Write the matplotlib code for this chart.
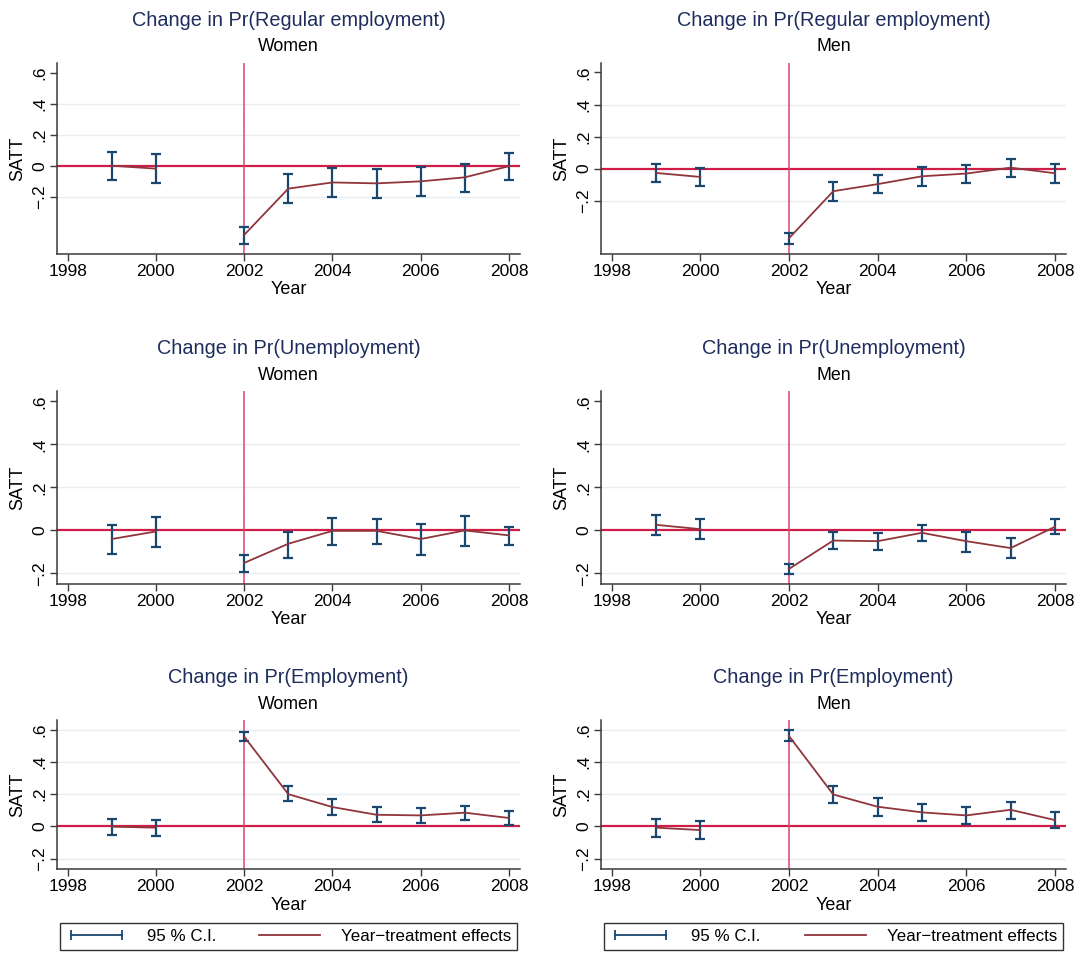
import numpy as np
import matplotlib
matplotlib.use("Agg")
import matplotlib.pyplot as plt
from matplotlib.lines import Line2D
from matplotlib.legend_handler import HandlerLine2D

plt.rcParams['font.family'] = ['Liberation Sans', 'DejaVu Sans']

# ---------------- data ----------------
years = [1999, 2000, 2001, 2002, 2003, 2004, 2005, 2006, 2007, 2008]
nan = np.nan

reg_w_est = [0.000, -0.019, nan, -0.447, -0.148, -0.108, -0.114, -0.101, -0.075, -0.003]
reg_w_lo  = [-0.095, -0.114, nan, -0.508, -0.241, -0.200, -0.206, -0.194, -0.168, -0.090]
reg_w_hi  = [0.086, 0.073, nan, -0.396, -0.056, -0.015, -0.022, -0.009, 0.011, 0.080]

reg_m_est = [-0.027, -0.052, nan, -0.435, -0.141, -0.097, -0.048, -0.031, 0.006, -0.029]
reg_m_lo  = [-0.081, -0.106, nan, -0.473, -0.201, -0.155, -0.106, -0.091, -0.050, -0.087]
reg_m_hi  = [0.029, 0.004, nan, -0.400, -0.085, -0.037, 0.010, 0.025, 0.060, 0.027]

une_w_est = [-0.040, -0.005, nan, -0.151, -0.062, -0.002, -0.002, -0.040, 0.000, -0.023]
une_w_lo  = [-0.109, -0.075, nan, -0.193, -0.127, -0.067, -0.062, -0.113, -0.073, -0.067]
une_w_hi  = [0.025, 0.061, nan, -0.113, -0.006, 0.057, 0.054, 0.030, 0.068, 0.016]

une_m_est = [0.026, 0.006, nan, -0.179, -0.047, -0.050, -0.011, -0.050, -0.082, 0.017]
une_m_lo  = [-0.020, -0.042, nan, -0.204, -0.087, -0.090, -0.048, -0.098, -0.128, -0.017]
une_m_hi  = [0.072, 0.054, nan, -0.157, -0.006, -0.011, 0.026, -0.005, -0.036, 0.054]

emp_w_est = [-0.002, -0.008, nan, 0.558, 0.200, 0.120, 0.072, 0.068, 0.085, 0.052]
emp_w_lo  = [-0.052, -0.058, nan, 0.531, 0.155, 0.072, 0.025, 0.023, 0.041, 0.006]
emp_w_hi  = [0.043, 0.041, nan, 0.589, 0.248, 0.169, 0.118, 0.112, 0.128, 0.095]

emp_m_est = [-0.008, -0.023, nan, 0.562, 0.198, 0.122, 0.087, 0.068, 0.103, 0.039]
emp_m_lo  = [-0.064, -0.079, nan, 0.531, 0.143, 0.066, 0.031, 0.014, 0.045, -0.012]
emp_m_hi  = [0.043, 0.033, nan, 0.597, 0.252, 0.178, 0.141, 0.120, 0.153, 0.091]

titles = ["Change in Pr(Regular employment)", "Change in Pr(Unemployment)", "Change in Pr(Employment)"]
subtitles = ["Women", "Men"]
ytick_vals = [-0.2, 0, 0.2, 0.4, 0.6]
ytick_labels = ["\u2212.2", "0", ".2", ".4", ".6"]
xtick_vals = [1998, 2000, 2002, 2004, 2006, 2008]
treat_year = 2002
legend_labels = ["95 % C.I.", "Year\u2212treatment effects"]

series = [
    [(reg_w_est, reg_w_lo, reg_w_hi), (reg_m_est, reg_m_lo, reg_m_hi)],
    [(une_w_est, une_w_lo, une_w_hi), (une_m_est, une_m_lo, une_m_hi)],
    [(emp_w_est, emp_w_lo, emp_w_hi), (emp_m_est, emp_m_lo, emp_m_hi)],
]

# ---------------- layout / style ----------------
W, H = 1078, 956
fig = plt.figure(figsize=(W / 100, H / 100), dpi=100)

col_x = [(57, 520), (601, 1066)]
row_y = [(62.7, 254), (391, 584), (720, 869)]
ylims = [[(-0.57, 0.665), (-0.533, 0.661)],
         [(-0.249, 0.648), (-0.249, 0.648)],
         [(-0.265, 0.661), (-0.265, 0.661)]]
grid_rows = [[-0.2, 0.2, 0.4], [-0.2, 0.2, 0.4], [-0.2, 0.2, 0.4, 0.6]]

navy = "#1a476f"
maroon = "#90353b"
refred = "#cf1d48"
vred = "#dc4570"
title_col = "#1e2d5c"
gridc = "#e6eef1"
axc = "#3a3a3a"
fs_tick = 12.5
fs_lab = 13

for r in range(3):
    for c in range(2):
        x0, x1 = col_x[c]
        yt, yb = row_y[r]
        ax = fig.add_axes([x0 / W, 1 - yb / H, (x1 - x0) / W, (yb - yt) / H])
        est, lo, hi = [np.array(a, dtype=float) for a in series[r][c]]
        yrs = np.array(years, dtype=float)

        for g in grid_rows[r]:
            ax.axhline(g, color=gridc, lw=1.0, zorder=0.5)
        ax.axhline(0, color=refred, lw=1.6, zorder=1.2)
        ax.axvline(treat_year, color=vred, lw=1.1, zorder=1.2)

        ok = ~np.isnan(est)
        ax.errorbar(yrs[ok], (lo[ok] + hi[ok]) / 2, yerr=(hi[ok] - lo[ok]) / 2,
                    fmt='none', ecolor=navy, elinewidth=1.6, capsize=3.4,
                    capthick=1.6, zorder=2)
        ax.plot(yrs, est, color=maroon, lw=1.3, zorder=3)

        ax.set_xlim(1997.76, 2008.25)
        ax.set_ylim(*ylims[r][c])
        ax.set_xticks(xtick_vals)
        ax.set_xticklabels([str(v) for v in xtick_vals])
        ax.set_yticks(ytick_vals)
        ax.set_yticklabels(ytick_labels, rotation=90, va='center')
        for s in ['top', 'right']:
            ax.spines[s].set_visible(False)
        for s in ['left', 'bottom']:
            ax.spines[s].set_color(axc)
            ax.spines[s].set_linewidth(1.1)
        ax.tick_params(axis='both', direction='out', length=5, width=1.0,
                       color=axc, labelsize=fs_tick, labelcolor='black', pad=2)
        ax.set_xlabel("Year", fontsize=fs_lab, labelpad=0)
        ax.set_ylabel("SATT", fontsize=fs_lab)
        ax.yaxis.set_label_coords(-39 / (x1 - x0), 0.5)
        ax.xaxis.set_label_coords(0.5, -36 / (yb - yt))
        ax.xaxis.label.set_va('center')
        ax.yaxis.label.set_va('center')

        ax.annotate(titles[r], xy=(0.5, 1), xycoords='axes fraction',
                    xytext=(0, 30.5), textcoords='offset points',
                    ha='center', va='center', fontsize=14.3, color=title_col)
        ax.annotate(subtitles[c], xy=(0.5, 1), xycoords='axes fraction',
                    xytext=(0, 11.5), textcoords='offset points',
                    ha='center', va='center', fontsize=12.8, color='black')

        if r == 2:
            h_ci = Line2D([], [], color=navy, lw=1.3, marker='|', markersize=7,
                          markeredgewidth=1.3)
            h_ln = Line2D([], [], color=maroon, lw=1.3)
            bw = (x1 - x0) - 6
            leg = ax.legend([h_ci, h_ln], legend_labels,
                            handler_map={h_ci: HandlerLine2D(numpoints=2)},
                            loc='upper left', ncol=2, mode='expand',
                            bbox_to_anchor=(3 / (x1 - x0), -54 / (yb - yt), bw / (x1 - x0), 0),
                            fontsize=12.2, frameon=True, fancybox=False,
                            edgecolor='#333333', framealpha=1,
                            handlelength=3.6, handletextpad=1.2,
                            borderpad=0.35, borderaxespad=0)
            leg.get_frame().set_linewidth(1.0)

fig.savefig("out.png", dpi=100, facecolor='white')
